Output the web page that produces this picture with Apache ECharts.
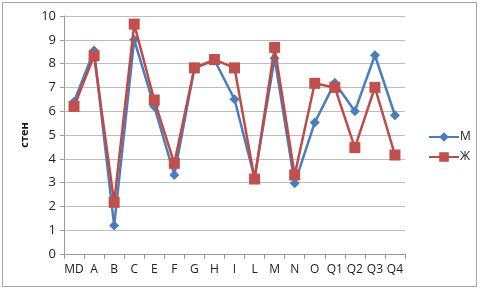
<!DOCTYPE html>
<html><head><meta charset="utf-8">
<script src="https://cdn.jsdelivr.net/npm/echarts@6/dist/echarts.min.js"></script>
<style>html,body{margin:0;padding:0;background:#fff}#c{width:481px;height:290px}
#f{position:absolute;left:2px;top:2px;width:473px;height:283px;border:1.5px solid #a6a6a6;box-sizing:content-box;pointer-events:none}</style>
</head><body><div id="c"></div><div id="f"></div>
<script>
var categories = ['MD','A','B','C','E','F','G','H','I','L','M','N','O','Q1','Q2','Q3','Q4'];
var seriesM = [6.4,8.55,1.2,9.0,6.2,3.32,7.8,8.15,6.5,3.2,8.22,2.97,5.52,7.2,6.0,8.35,5.83];
var seriesZh = [6.2,8.33,2.17,9.66,6.47,3.81,7.82,8.17,7.82,3.15,8.68,3.32,7.17,7.0,4.47,7.0,4.16];
var yTicks = [0,1,2,3,4,5,6,7,8,9,10];
var chart = echarts.init(document.getElementById('c'));
var font = 'Open Sans, Liberation Sans, sans-serif';
chart.setOption({
  animation:false,
  grid:{left:64,right:76,top:16,bottom:36},
  legend:{orient:'vertical',left:423,top:126,itemGap:8,itemWidth:30,itemHeight:12,
    textStyle:{fontFamily:font,fontSize:12,color:'#222',padding:[0,0,0,-4]},
    data:['M','Ж']},
  xAxis:{type:'category',data:categories,boundaryGap:true,
    axisLine:{lineStyle:{color:'#999',width:1}},
    axisTick:{show:true,alignWithLabel:false,length:5,lineStyle:{color:'#999'}},
    axisLabel:{fontFamily:font,fontSize:12,color:'#222',margin:10,interval:0}},
  yAxis:{type:'value',min:yTicks[0],max:yTicks[yTicks.length-1],interval:1,
    name:'стен',nameLocation:'middle',nameGap:33,nameRotate:90,
    nameTextStyle:{fontFamily:font,fontSize:11,fontWeight:'bold',color:'#111'},
    axisLine:{show:true,lineStyle:{color:'#999'}},
    axisTick:{show:true,length:4,lineStyle:{color:'#999'}},
    axisLabel:{fontFamily:font,fontSize:13,color:'#222',margin:8},
    splitLine:{lineStyle:{color:'#bdbdbd',width:1}}},
  series:[
    {name:'M',type:'line',data:seriesM,symbol:'diamond',symbolSize:10,
      lineStyle:{color:'#4a7ebb',width:2.5},itemStyle:{color:'#4a7ebb'},z:2},
    {name:'Ж',type:'line',data:seriesZh,symbol:'rect',symbolSize:11,
      lineStyle:{color:'#be4b48',width:2.5},itemStyle:{color:'#c0504d'},z:3}
  ]
});
</script></body></html>
